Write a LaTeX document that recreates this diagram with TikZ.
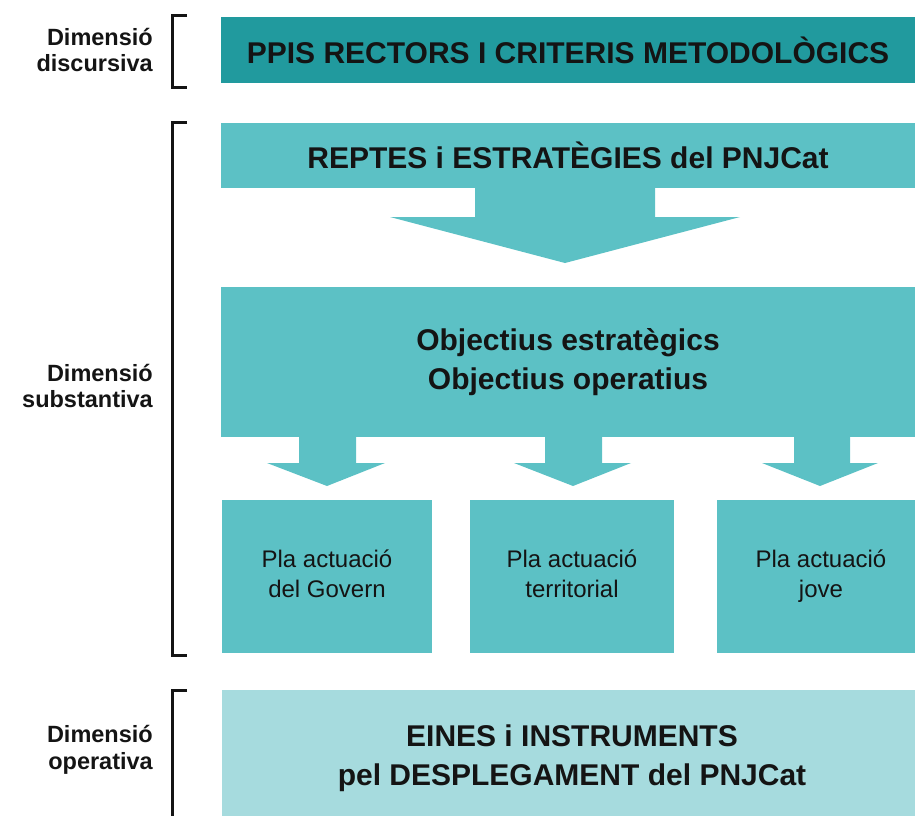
\documentclass[tikz,border=0pt]{standalone}
\usepackage{fontspec}
\setmainfont{Liberation Sans}
\definecolor{darkteal}{HTML}{219A9E}
\definecolor{midteal}{HTML}{5CC1C5}
\definecolor{paleteal}{HTML}{A6DBDE}
\definecolor{inkcol}{HTML}{141414}
\tikzset{
  box/.style={inner sep=0pt, outer sep=0pt, anchor=north west, align=center, text=inkcol},
  headtxt/.style={font=\fontsize{30}{39}\selectfont\bfseries},
  subtxt/.style={font=\fontsize{24}{30}\selectfont},
  lbl/.style={anchor=east, align=right, inner sep=0pt, text=inkcol, font=\fontsize{23.5}{26.5}\selectfont\bfseries},
  bracketline/.style={draw=inkcol, line width=3pt},
  blockarrow/.style={fill=midteal, draw=none}
}
\begin{document}
\begin{tikzpicture}[x=1pt,y=-1pt]
\useasboundingbox (0,0) rectangle (915,816);
\clip (0,0) rectangle (915,816);
% boxes
\node[box, fill=darkteal, minimum width=694pt, minimum height=66pt, headtxt] (ppis) at (221,17) {PPIS RECTORS I CRITERIS METODOLÒGICS};
\node[box, fill=midteal, minimum width=694pt, minimum height=65pt, headtxt] (reptes) at (221,123) {REPTES i ESTRATÈGIES del PNJCat};
\node[box, fill=midteal, minimum width=694pt, minimum height=150pt, headtxt] (obj) at (221,287) {Objectius estratègics\\Objectius operatius};
\node[box, fill=midteal, minimum width=210pt, minimum height=153pt, subtxt] (govern) at (222,500) {Pla actuació\strut\\del Govern\strut};
\node[box, fill=midteal, minimum width=204pt, minimum height=153pt, subtxt] (territ) at (470,500) {Pla actuació\strut\\territorial\strut};
\node[box, fill=midteal, minimum width=208pt, minimum height=153pt, subtxt] (jove) at (717,500) {Pla actuació\strut\\jove\strut};
\node[box, fill=paleteal, minimum width=700pt, minimum height=136pt, headtxt] (eines) at (222,690) {EINES i INSTRUMENTS\\pel DESPLEGAMENT del PNJCat};
% big arrow
\fill[blockarrow] (475,186) -- (655,186) -- (655,217) -- (740,217) -- (565,263) -- (390,217) -- (475,217) -- cycle;
% small arrows
\fill[blockarrow] (299,435) -- (356,435) -- (356,463) -- (385,463) -- (327,486) -- (267,463) -- (299,463) -- cycle;
\fill[blockarrow] (545,435) -- (602,435) -- (602,463) -- (631,463) -- (573,486) -- (514,463) -- (545,463) -- cycle;
\fill[blockarrow] (794,435) -- (850,435) -- (850,463) -- (878,463) -- (820,486) -- (762,463) -- (794,463) -- cycle;
% labels
\node[lbl] (ldisc) at (153,50) {Dimensió\\discursiva};
\node[lbl] (lsubs) at (153,386) {Dimensió\\substantiva};
\node[lbl] (loper) at (153,750) {Dimensió\\operativa};
% brackets
\draw[bracketline] (187,16) -- (172,16) -- (172,87) -- (187,87);
\draw[bracketline] (187,122) -- (172,122) -- (172,655) -- (187,655);
\draw[bracketline] (187,690) -- (172,690) -- (172,830);
\end{tikzpicture}
\end{document}
